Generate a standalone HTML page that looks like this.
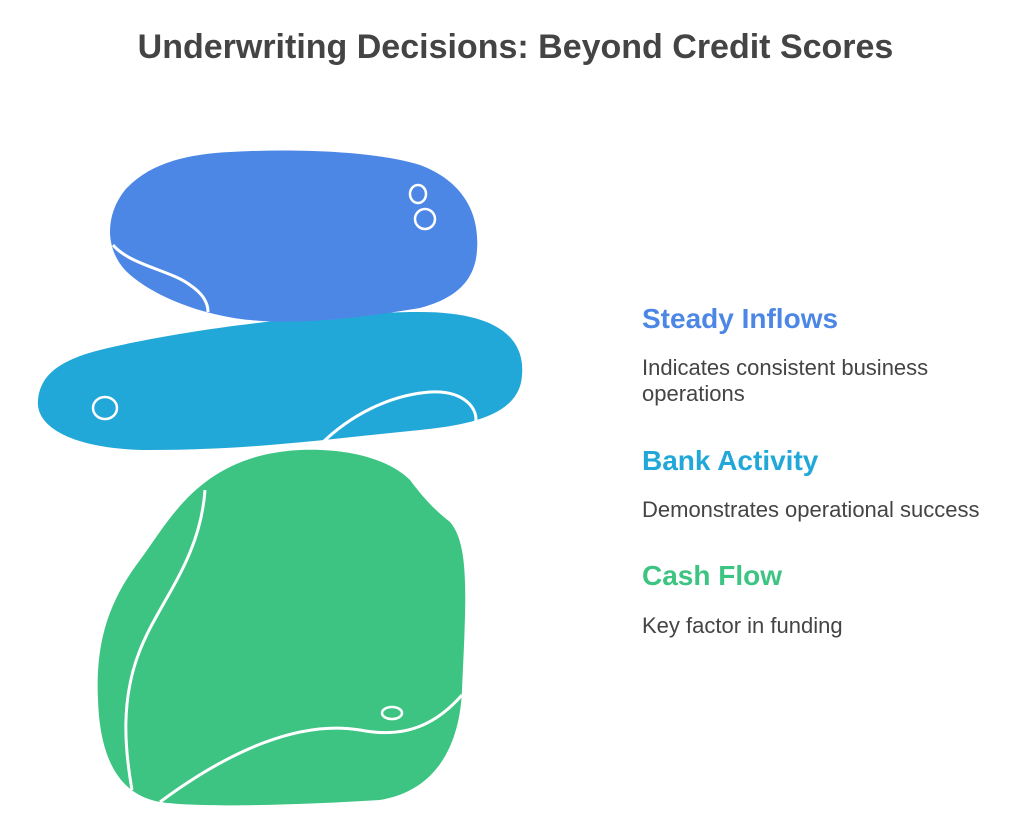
<!DOCTYPE html>
<html><head><meta charset="utf-8"><style>
body{margin:0;width:1024px;height:813px;background:#fff;font-family:"Liberation Sans",sans-serif;overflow:hidden;position:relative}
.t{position:absolute;white-space:nowrap}
</style></head><body>
<div class="t" style="left:0;width:1031px;text-align:center;top:28px;font-size:34px;font-weight:bold;color:#444">Underwriting Decisions: Beyond Credit Scores</div>
<svg width="1024" height="813" style="position:absolute;left:0;top:0">
<path d="M300 450 C350 448 390 460 410 480 C425 500 435 510 450 522 C470 545 466 600 462 690 C460 740 440 790 380 800 C300 805 200 808 160 802 C120 795 100 760 98 700 C95 640 110 600 140 560 C170 520 200 455 300 450 Z" fill="#3DC482"/>
<path d="M205 490 C200 560 160 600 140 650 C120 700 125 750 132 790" fill="none" stroke="#fff" stroke-width="3"/>
<path d="M160 802 C230 750 300 720 360 730 C410 740 440 720 462 695" fill="none" stroke="#fff" stroke-width="3"/>
<ellipse cx="392" cy="713" rx="10" ry="6" fill="none" stroke="#fff" stroke-width="2.5"/>
<path d="M100 350 C180 330 320 312 420 312 C500 312 525 340 522 375 C520 415 470 425 420 430 C320 440 250 450 150 450 C80 450 35 430 38 400 C40 375 60 360 100 350 Z" fill="#22A8D8"/>
<path d="M320 445 C350 415 390 395 430 392 C465 390 480 410 475 425" fill="none" stroke="#fff" stroke-width="3"/>
<ellipse cx="105" cy="408" rx="12" ry="11" fill="none" stroke="#fff" stroke-width="2.5"/>
<path d="M240 322 C300 318 350 316 400 310" fill="none" stroke="#fff" stroke-width="2.5"/>
<path d="M230 152 C300 148 380 152 420 165 C460 180 480 210 477 250 C475 285 450 300 420 308 C360 318 300 325 250 320 C200 315 150 295 125 270 C105 248 105 215 125 190 C150 162 190 154 230 152 Z" fill="#4D87E6"/>
<path d="M113 245 C130 265 170 270 190 285 C205 295 208 305 208 312" fill="none" stroke="#fff" stroke-width="3"/>
<ellipse cx="418" cy="194" rx="8" ry="9" fill="none" stroke="#fff" stroke-width="2.5"/>
<ellipse cx="425" cy="219" rx="10" ry="10" fill="none" stroke="#fff" stroke-width="2.5"/>
</svg>
<div class="t" style="left:642px;top:303px;font-size:28px;font-weight:bold;color:#4D87E6">Steady Inflows</div>
<div class="t" style="left:642px;top:355px;font-size:22px;color:#444;line-height:26px">Indicates consistent business<br>operations</div>
<div class="t" style="left:642px;top:445px;font-size:28px;font-weight:bold;color:#22A8D8">Bank Activity</div>
<div class="t" style="left:642px;top:497px;font-size:22px;color:#444">Demonstrates operational success</div>
<div class="t" style="left:642px;top:560px;font-size:28px;font-weight:bold;color:#3DC482">Cash Flow</div>
<div class="t" style="left:642px;top:613px;font-size:22px;color:#444">Key factor in funding</div>
</body></html>
